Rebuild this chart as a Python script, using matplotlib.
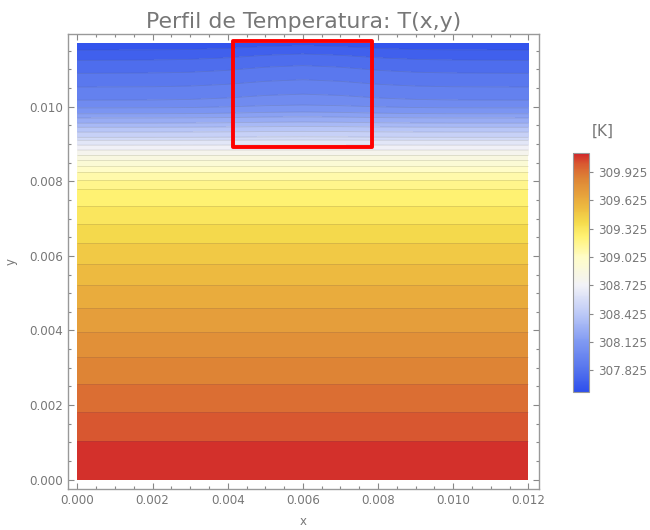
import numpy as np
import matplotlib
matplotlib.use("Agg")
import matplotlib.pyplot as plt
from matplotlib.colors import LinearSegmentedColormap, Normalize
from matplotlib.cm import ScalarMappable
from matplotlib.patches import Rectangle
from matplotlib.ticker import MultipleLocator, FormatStrFormatter

# Temperature profile along the plate height (side columns), in K
y_prof = [0.0, 0.00103, 0.00180, 0.00257, 0.00328, 0.00395, 0.00460, 0.00521,
          0.00578, 0.00634, 0.00685, 0.00734, 0.00781, 0.00803, 0.00825, 0.00841,
          0.00857, 0.00871, 0.00884, 0.00897, 0.00910, 0.00918, 0.00932, 0.00945,
          0.00956, 0.00970, 0.00981, 0.00997, 0.01018, 0.01053, 0.01090, 0.01125,
          0.01152, 0.0117]
T_prof = [310.130, 310.053, 309.977, 309.900, 309.823, 309.747, 309.670, 309.593,
          309.516, 309.440, 309.363, 309.286, 309.210, 309.133, 309.056, 308.980,
          308.903, 308.826, 308.749, 308.673, 308.596, 308.519, 308.443, 308.366,
          308.289, 308.212, 308.136, 308.059, 307.982, 307.906, 307.829, 307.752,
          307.676, 307.600]

# Extra warming at the centre of the top edge (x = 0.006), in K
y_bump = [0.0, 0.0088, 0.0092, 0.0097, 0.0103, 0.0110, 0.0117]
dT_bump = [0.0, 0.0, 0.008, 0.020, 0.035, 0.045, 0.050]

# Share of that warming across the width
x_st = [0.0, 0.002, 0.003, 0.004, 0.005, 0.006, 0.007, 0.008, 0.009, 0.010, 0.012]
frac_st = [0.0, 0.05, 0.15, 0.40, 0.80, 1.0, 0.80, 0.40, 0.15, 0.05, 0.0]

T_min, T_max = 307.60, 310.13
n_bands = 33
cbar_ticks = [307.825, 308.125, 308.425, 308.725, 309.025, 309.325, 309.625, 309.925]

# Field on a grid
xs = np.linspace(0.0, 0.012, 241)
ys = np.linspace(0.0, 0.0117, 586)
T_col = np.interp(ys, y_prof, T_prof)
bump_col = np.interp(ys, y_bump, dT_bump)
frac_row = np.interp(xs, x_st, frac_st)
X, Y = np.meshgrid(xs, ys)
T = T_col[:, None] + bump_col[:, None] * frac_row[None, :]

cmap = LinearSegmentedColormap.from_list("temperature", [
    (0.000, (0.18, 0.31, 0.93)),
    (0.089, (0.33, 0.45, 0.93)),
    (0.208, (0.50, 0.60, 0.95)),
    (0.326, (0.74, 0.79, 0.97)),
    (0.445, (0.95, 0.95, 0.97)),
    (0.563, (1.00, 0.99, 0.78)),
    (0.650, (1.00, 0.95, 0.45)),
    (0.710, (0.96, 0.86, 0.30)),
    (0.773, (0.93, 0.73, 0.25)),
    (0.834, (0.90, 0.62, 0.23)),
    (0.893, (0.87, 0.52, 0.21)),
    (0.955, (0.85, 0.35, 0.19)),
    (1.000, (0.82, 0.13, 0.16)),
])
norm = Normalize(T_min, T_max)
levels = np.linspace(T_min, T_max, n_bands + 1)

gray = "#777777"
fig = plt.figure(figsize=(6.5, 5.3), dpi=100)
ax = fig.add_axes([0.1046, 0.0768, 0.7251, 0.859])

ax.contourf(X, Y, T, levels=levels, cmap=cmap, norm=norm)
ax.contour(X, Y, T, levels=levels[1:-1], colors=[(0.3, 0.3, 0.3, 0.18)],
           linewidths=0.6)

ax.add_patch(Rectangle((0.004146, 0.00891), 0.00370, 0.00285, fill=False,
                       edgecolor=(1, 0, 0), linewidth=2.8, joinstyle="round",
                       zorder=5, clip_on=False))

ax.set_xlim(-0.00025, 0.01229)
ax.set_ylim(-0.00026, 0.01195)
ax.xaxis.set_major_locator(MultipleLocator(0.002))
ax.xaxis.set_minor_locator(MultipleLocator(0.0005))
ax.yaxis.set_major_locator(MultipleLocator(0.002))
ax.yaxis.set_minor_locator(MultipleLocator(0.0005))
ax.xaxis.set_major_formatter(FormatStrFormatter("%.3f"))
ax.yaxis.set_major_formatter(FormatStrFormatter("%.3f"))
ax.tick_params(which="both", direction="in", top=True, right=True, color="#888888",
               labelcolor=gray, labelsize=8.6)
ax.tick_params(which="major", length=4.5, width=0.8)
ax.tick_params(which="minor", length=2.5, width=0.8)
for s in ax.spines.values():
    s.set_color("#999999")
    s.set_linewidth(1.0)

ax.set_title("Perfil de Temperatura: T(x,y)", color=gray, fontsize=15.8, pad=4)
ax.set_xlabel("x", color=gray, fontsize=8.5, labelpad=6)
ax.set_ylabel("y", color=gray, fontsize=8.5, labelpad=8)

cax = fig.add_axes([0.881, 0.2609, 0.0255, 0.451])
cb = fig.colorbar(ScalarMappable(norm=norm, cmap=cmap), cax=cax, ticks=cbar_ticks)
cb.ax.yaxis.set_major_formatter(FormatStrFormatter("%.3f"))
cb.ax.tick_params(color="#888888", labelcolor=gray, labelsize=8.6, length=3, width=0.8)
cb.outline.set_edgecolor("#999999")
cb.outline.set_linewidth(0.8)
fig.text(0.928, 0.752, "[K]", color=gray, fontsize=11, ha="center", va="center")

fig.savefig("out.png", dpi=100)
